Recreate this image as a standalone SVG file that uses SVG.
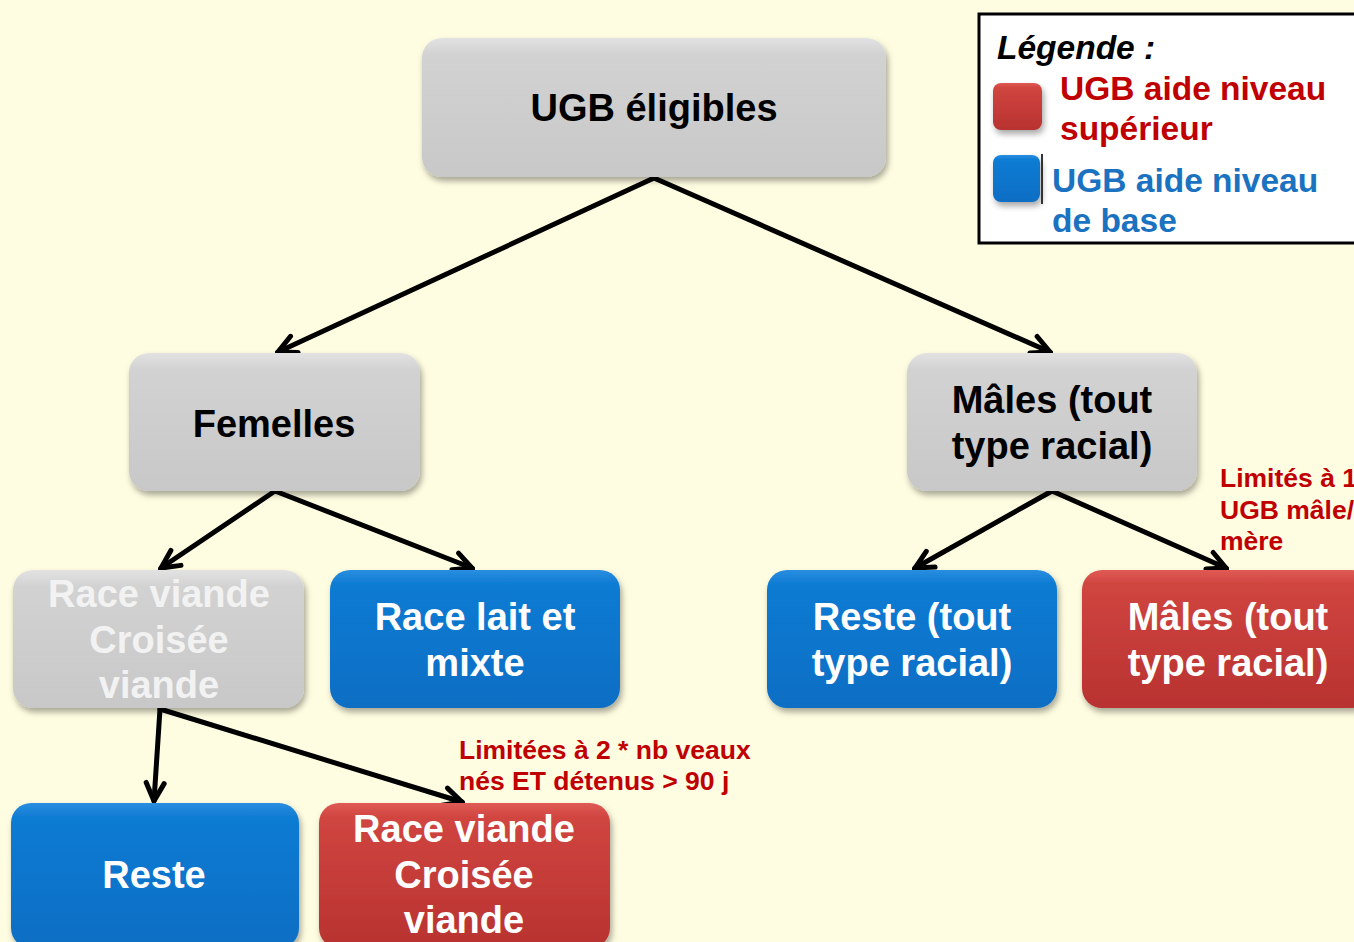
<svg xmlns="http://www.w3.org/2000/svg" width="1354" height="942" viewBox="0 0 1354 942">
<defs>
<style>
.t{font-family:"Liberation Sans",Arial,sans-serif;font-weight:bold;font-size:38px;text-anchor:middle}
.dk{fill:#000}
.wh{fill:#fff}
.gw{fill:#f2f2f2}
.an{font-family:"Liberation Sans",Arial,sans-serif;font-weight:bold;font-size:26.5px;fill:#c00000}
.lg{font-family:"Liberation Sans",Arial,sans-serif;font-weight:bold;font-size:33.5px}
.conn{stroke:#000;stroke-width:5;fill:none;stroke-linecap:round;marker-end:url(#arr)}
</style>
<linearGradient id="gGray" x1="0" y1="0" x2="0" y2="1">
<stop offset="0" stop-color="#e2e2e2"/>
<stop offset="0.12" stop-color="#d2d2d2"/>
<stop offset="1" stop-color="#c8c8c8"/>
</linearGradient>
<linearGradient id="gBlue" x1="0" y1="0" x2="0" y2="1">
<stop offset="0" stop-color="#2a8ee0"/>
<stop offset="0.1" stop-color="#0e7bd3"/>
<stop offset="1" stop-color="#0a6ec4"/>
</linearGradient>
<linearGradient id="gRed" x1="0" y1="0" x2="0" y2="1">
<stop offset="0" stop-color="#e05a55"/>
<stop offset="0.1" stop-color="#d04540"/>
<stop offset="1" stop-color="#b83230"/>
</linearGradient>
<filter id="sh" x="-10%" y="-10%" width="125%" height="130%">
<feDropShadow dx="2" dy="4" stdDeviation="3" flood-color="#000" flood-opacity="0.35"/>
</filter>
<marker id="arr" viewBox="0 0 24 24" refX="21" refY="12" markerWidth="24" markerHeight="24" markerUnits="userSpaceOnUse" orient="auto">
<path d="M3,3 L21,12 L3,21" fill="none" stroke="#000" stroke-width="5" stroke-linejoin="miter" stroke-linecap="round"/>
</marker>
</defs>
<rect x="0" y="0" width="1354" height="942" fill="#fffde1"/>

<g id="connectors">
<line class="conn" x1="654" y1="178" x2="278" y2="352"/>
<line class="conn" x1="654" y1="178" x2="1050" y2="352"/>
<line class="conn" x1="275" y1="491" x2="161" y2="568"/>
<line class="conn" x1="275" y1="491" x2="472" y2="568"/>
<line class="conn" x1="1052" y1="491" x2="915" y2="568"/>
<line class="conn" x1="1052" y1="491" x2="1226" y2="568"/>
<line class="conn" x1="160" y1="709" x2="154" y2="801"/>
<line class="conn" x1="160" y1="709" x2="462" y2="802"/>
</g>

<g id="n-ugb">
<rect x="422" y="38" width="464" height="139" rx="20" fill="url(#gGray)" filter="url(#sh)"/>
<text class="t dk" x="654" y="121">UGB éligibles</text>
</g>
<g id="n-femelles">
<rect x="129" y="353" width="291" height="138" rx="20" fill="url(#gGray)" filter="url(#sh)"/>
<text class="t dk" x="274" y="437">Femelles</text>
</g>
<g id="n-males">
<rect x="907" y="353" width="290" height="138" rx="20" fill="url(#gGray)" filter="url(#sh)"/>
<text class="t dk" x="1052" y="413"><tspan x="1052">Mâles (tout</tspan><tspan x="1052" dy="45.5">type racial)</tspan></text>
</g>
<g id="n-race-viande-gris">
<rect x="13" y="570" width="291" height="138" rx="20" fill="url(#gGray)" filter="url(#sh)"/>
<text class="t gw" x="159" y="607"><tspan x="159">Race viande</tspan><tspan x="159" dy="45.5">Croisée</tspan><tspan x="159" dy="45.5">viande</tspan></text>
</g>
<g id="n-race-lait">
<rect x="330" y="570" width="290" height="138" rx="20" fill="url(#gBlue)" filter="url(#sh)"/>
<text class="t wh" x="475" y="630"><tspan x="475">Race lait et</tspan><tspan x="475" dy="45.5">mixte</tspan></text>
</g>
<g id="n-reste-tout">
<rect x="767" y="570" width="290" height="138" rx="20" fill="url(#gBlue)" filter="url(#sh)"/>
<text class="t wh" x="912" y="630"><tspan x="912">Reste (tout</tspan><tspan x="912" dy="45.5">type racial)</tspan></text>
</g>
<g id="n-males-rouge">
<rect x="1082" y="570" width="290" height="138" rx="20" fill="url(#gRed)" filter="url(#sh)"/>
<text class="t wh" x="1228" y="630"><tspan x="1228">Mâles (tout</tspan><tspan x="1228" dy="45.5">type racial)</tspan></text>
</g>
<g id="n-reste">
<rect x="11" y="803" width="288" height="145" rx="20" fill="url(#gBlue)" filter="url(#sh)"/>
<text class="t wh" x="154" y="888">Reste</text>
</g>
<g id="n-race-viande-rouge">
<rect x="319" y="803" width="291" height="145" rx="20" fill="url(#gRed)" filter="url(#sh)"/>
<text class="t wh" x="464" y="842"><tspan x="464">Race viande</tspan><tspan x="464" dy="45.5">Croisée</tspan><tspan x="464" dy="45.5">viande</tspan></text>
</g>

<g id="annotations">
<text class="an" x="1220" y="487"><tspan x="1220">Limités à 1</tspan><tspan x="1220" dy="31.5">UGB mâle/</tspan><tspan x="1220" dy="31.5">mère</tspan></text>
<text class="an" x="459" y="759"><tspan x="459">Limitées à 2 * nb veaux</tspan><tspan x="459" dy="31">nés ET détenus &gt; 90 j</tspan></text>
</g>

<g id="legend">
<rect x="979" y="14" width="390" height="229" fill="#fff" stroke="#000" stroke-width="3"/>
<text class="lg" x="997" y="59" font-style="italic" fill="#000">Légende :</text>
<rect x="993" y="83" width="49" height="47" rx="8" fill="url(#gRed)" filter="url(#sh)"/>
<text class="lg" x="1060" y="100" fill="#c00000"><tspan x="1060">UGB aide niveau</tspan><tspan x="1060" dy="40">supérieur</tspan></text>
<rect x="993" y="155" width="47" height="47" rx="8" fill="url(#gBlue)" filter="url(#sh)"/>
<line x1="1042" y1="154" x2="1042" y2="204" stroke="#333" stroke-width="2"/>
<text class="lg" x="1052" y="192" fill="#1a72c0"><tspan x="1052">UGB aide niveau</tspan><tspan x="1052" dy="40">de base</tspan></text>
</g>
</svg>
